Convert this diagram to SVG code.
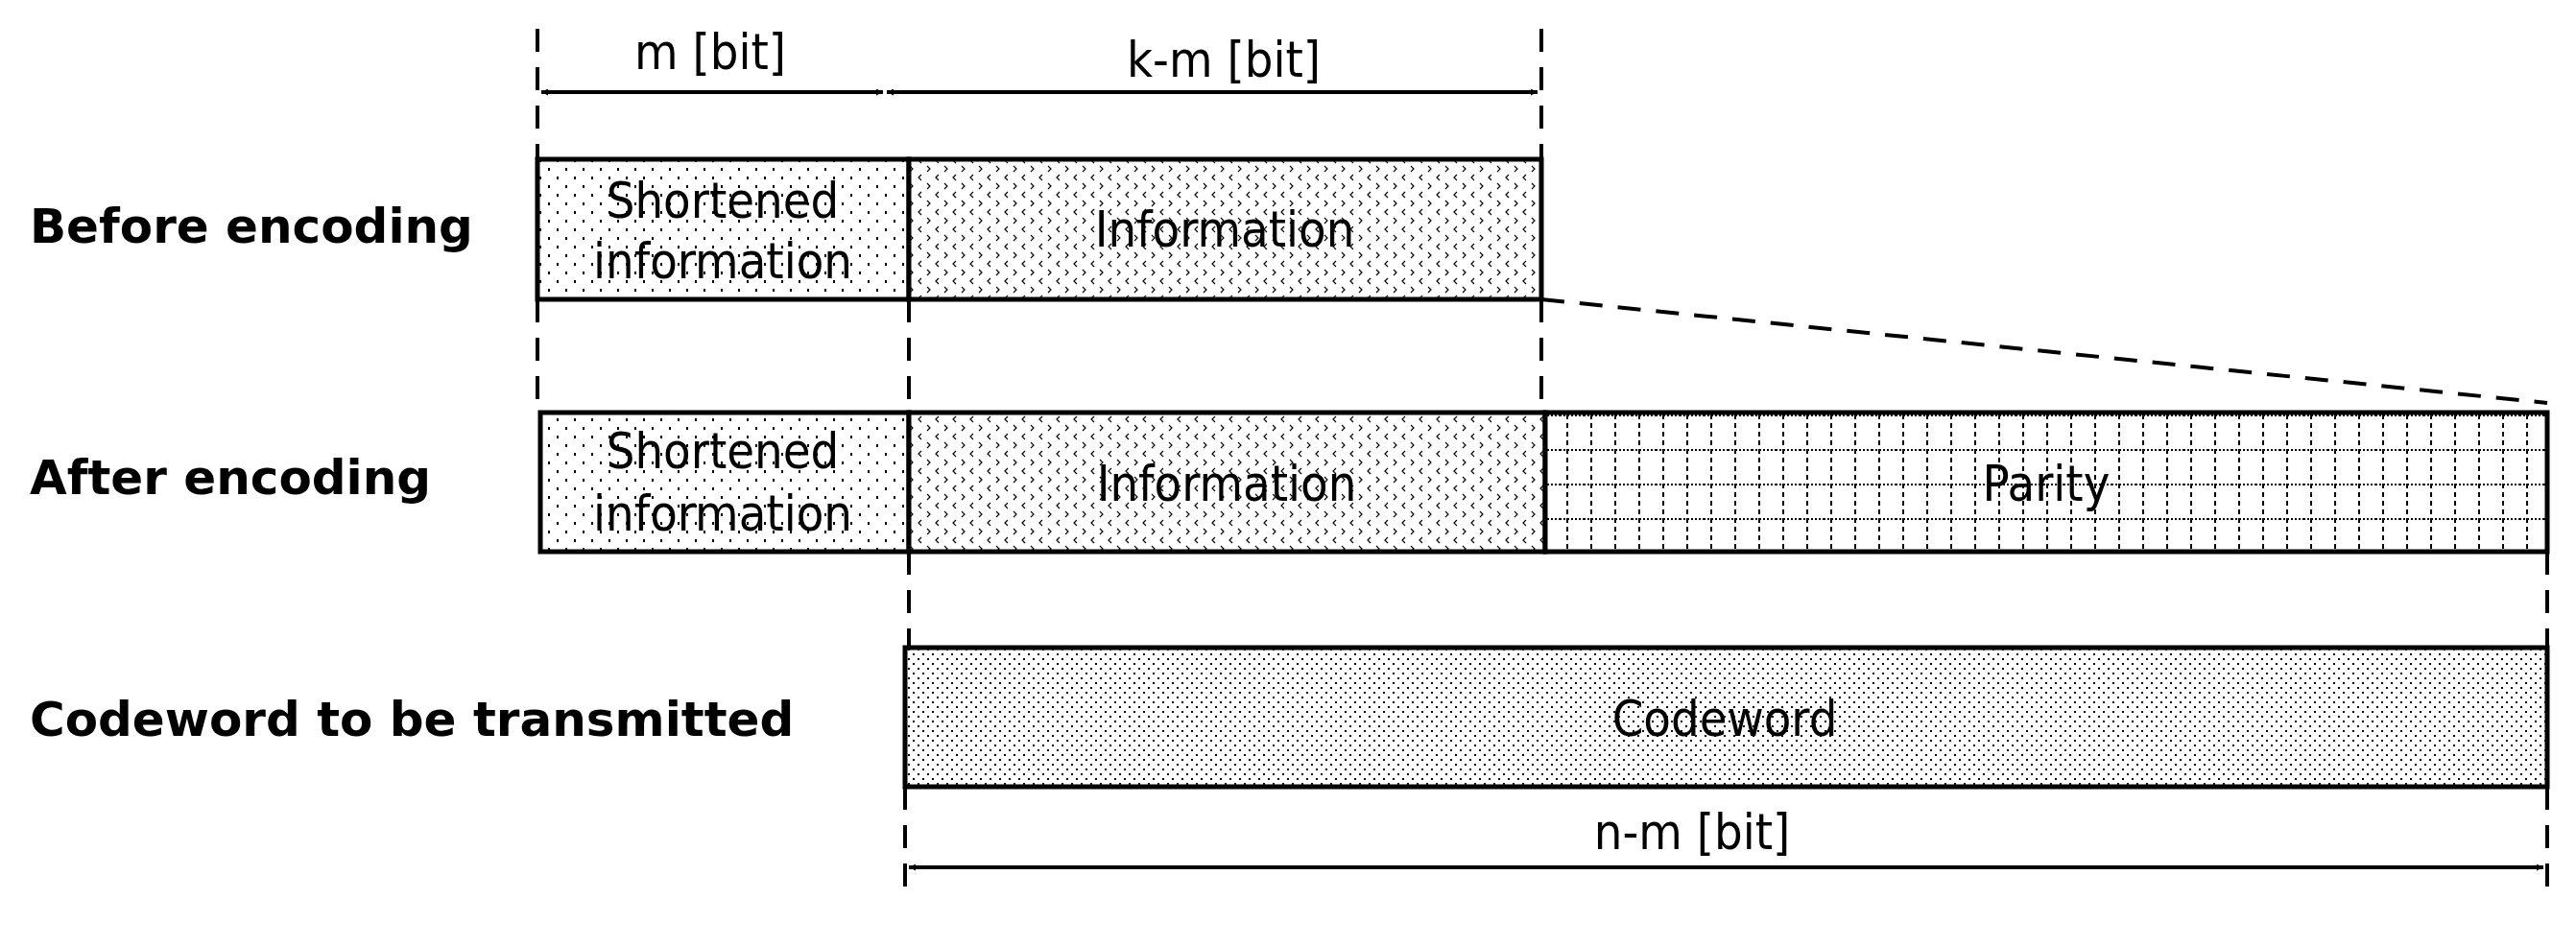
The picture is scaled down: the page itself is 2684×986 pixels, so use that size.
<svg xmlns="http://www.w3.org/2000/svg" width="2684" height="986" viewBox="0 0 2684 986">
<style>
.lbl{font-family:"DejaVu Sans",sans-serif;font-weight:bold;font-size:50px;fill:#000}
.t{font-family:"DejaVu Sans Condensed","DejaVu Sans",sans-serif;font-size:52px;fill:#000;text-anchor:middle}
.box{stroke:#000;stroke-width:5}
.dash{stroke:#000;stroke-width:4;stroke-dasharray:24,16;fill:none}
.arr{stroke:#000;stroke-width:4;fill:none}
</style>
<defs>
<pattern id="pShort" width="18" height="18" patternUnits="userSpaceOnUse"><rect width="18" height="18" fill="#fff"/><rect x="4" y="4" width="2" height="3" fill="#000"/><rect x="13" y="13" width="2" height="3" fill="#000"/></pattern>
<pattern id="pInfo" width="18" height="18" patternUnits="userSpaceOnUse"><rect width="18" height="18" fill="#fff"/><path d="M6 2l-3 3 3 3M12 11l3 3-3 3" stroke="#000" stroke-width="1.2" fill="none"/></pattern>
<pattern id="pPar" width="25" height="36" patternUnits="userSpaceOnUse"><rect width="25" height="36" fill="#fff"/><path d="M0 1H25" stroke="#000" stroke-width="2" stroke-dasharray="2,2"/><path d="M8 0V36" stroke="#000" stroke-width="2" stroke-dasharray="5,4"/></pattern>
<pattern id="pCode" width="10" height="10" patternUnits="userSpaceOnUse"><rect width="10" height="10" fill="#fff"/><rect x="1" y="1" width="2" height="2" fill="#000"/><rect x="6" y="6" width="2" height="2" fill="#000"/></pattern>
<marker id="ah" viewBox="0 0 10 10" refX="10" refY="5" markerWidth="7" markerHeight="7" orient="auto-start-reverse" markerUnits="userSpaceOnUse"><path d="M0 0L10 5L0 10z" fill="#000"/></marker>
</defs>
<g id="labels">
<text class="lbl" x="31" y="253">Before encoding</text>
<text class="lbl" x="31" y="515">After encoding</text>
<text class="lbl" x="31" y="767">Codeword to be transmitted</text>
</g>
<g id="connectors">
<path class="dash" d="M560 30V166M560 312V426"/>
<path class="dash" d="M1606 30V166M1606 312V430"/>
<path class="dash" d="M947 312V430M947 575V675"/>
<path class="dash" d="M943 820V940M2654 575V675M2654 820V940"/>
<path class="dash" d="M1606 312L2654 420"/>
<path class="arr" d="M564 96H920" marker-start="url(#ah)" marker-end="url(#ah)" style="stroke-width:4"/>
<path class="arr" d="M924 96H1602" marker-start="url(#ah)" marker-end="url(#ah)"/>
<path class="arr" d="M947 904H2650" marker-start="url(#ah)" marker-end="url(#ah)"/>
<path d="M564 96H920" stroke="none"/>
</g>
<g id="dims">
<text class="t" x="740" y="72">m [bit]</text>
<text class="t" x="1275" y="80">k-m [bit]</text>
<text class="t" x="1763" y="885">n-m [bit]</text>
</g>
<g id="before">
<rect class="box" x="560" y="166" width="387" height="146" fill="url(#pShort)"/>
<rect class="box" x="947" y="166" width="659" height="146" fill="url(#pInfo)"/>
<text class="t" x="753" y="227">Shortened</text>
<text class="t" x="753" y="290">information</text>
<text class="t" x="1276" y="257">Information</text>
</g>
<g id="after">
<rect class="box" x="563" y="430" width="384" height="145" fill="url(#pShort)"/>
<rect class="box" x="947" y="430" width="663" height="145" fill="url(#pInfo)"/>
<rect class="box" x="1610" y="430" width="1044" height="145" fill="url(#pPar)"/>
<text class="t" x="753" y="488">Shortened</text>
<text class="t" x="753" y="553">information</text>
<text class="t" x="1278" y="522">Information</text>
<text class="t" x="2132" y="522">Parity</text>
</g>
<g id="codeword">
<rect class="box" x="943" y="675" width="1711" height="145" fill="url(#pCode)"/>
<text class="t" x="1797" y="767">Codeword</text>
</g>
</svg>
